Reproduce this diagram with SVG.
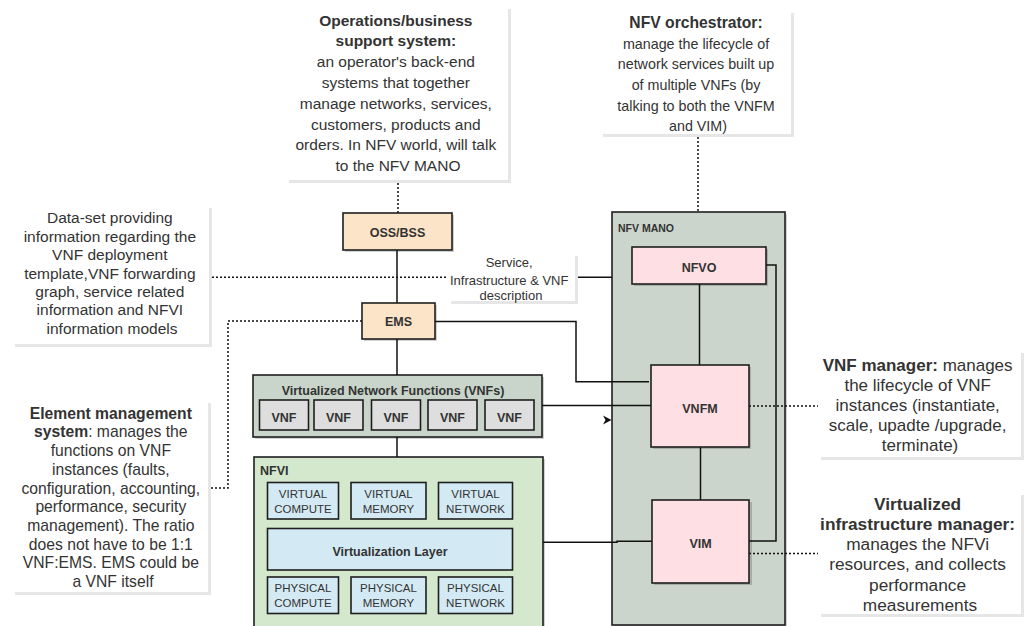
<svg xmlns="http://www.w3.org/2000/svg" width="1028" height="626" viewBox="0 0 1028 626">
<style>
  text { font-family: "Liberation Sans", Arial, sans-serif; fill: #333; }
  .note { text-anchor: middle; }
  .b { font-weight: bold; }
  .shadow { fill: #e6e6e6; }
  .paper { fill: #ffffff; }
  .box { stroke: #1e1e1e; stroke-width: 1.6; }
  .dshadow { fill: #000; opacity: 0.18; }
  .peach { fill: #fce4c8; }
  .pink { fill: #fddfe4; }
  .mano { fill: #cbd5cc; }
  .vnfs { fill: #c9d5ca; }
  .vnf { fill: #dedede; }
  .nfvi { fill: #d3e8cd; }
  .res { fill: #d3eaf4; }
  .lbl { text-anchor: middle; font-weight: bold; font-size: 12.5px; }
  .res-t { text-anchor: middle; font-size: 11.5px; }
  .wire { fill: none; stroke: #111; stroke-width: 1.5; }
  .dot { fill: none; stroke: #111; stroke-width: 1.5; stroke-dasharray: 2 2; }
</style>

<!-- annotation notes -->
<g id="note-oss">
  <rect class="shadow" x="289" y="9" width="222" height="174"/>
  <rect class="paper" x="286" y="6" width="222" height="174"/>
  <text class="note" font-size="15.5">
    <tspan class="b" x="398" y="25.5">Operations/business</tspan>
    <tspan class="b" x="398" y="46.3">support system:</tspan>
    <tspan x="398" y="67.1">an operator's back-end</tspan>
    <tspan x="398" y="87.9">systems that together</tspan>
    <tspan x="398" y="108.7">manage networks, services,</tspan>
    <tspan x="398" y="129.5">customers, products and</tspan>
    <tspan x="398" y="150.3">orders. In NFV world, will talk</tspan>
    <tspan x="398" y="171.1">to the NFV MANO</tspan>
  </text>
</g>

<g id="note-nfvo">
  <rect class="shadow" x="603" y="13" width="191" height="124"/>
  <rect class="paper" x="600" y="10" width="191" height="124"/>
  <text class="note" font-size="14.3">
    <tspan class="b" x="698" y="28" font-size="15.7">NFV orchestrator:</tspan>
    <tspan x="698" y="48.5">manage the lifecycle of</tspan>
    <tspan x="698" y="69">network services built up</tspan>
    <tspan x="698" y="90">of multiple VNFs (by</tspan>
    <tspan x="698" y="110.5">talking to both the VNFM</tspan>
    <tspan x="698" y="131">and VIM)</tspan>
  </text>
</g>

<g id="note-dataset">
  <rect class="shadow" x="15" y="208" width="197" height="139"/>
  <rect class="paper" x="12" y="205" width="197" height="139"/>
  <text class="note" font-size="15.5">
    <tspan x="112" y="223.4">Data-set providing</tspan>
    <tspan x="112" y="241.8">information regarding the</tspan>
    <tspan x="112" y="260.2">VNF deployment</tspan>
    <tspan x="112" y="278.6">template,VNF forwarding</tspan>
    <tspan x="112" y="297">graph, service related</tspan>
    <tspan x="112" y="315.4">information and NFVI</tspan>
    <tspan x="112" y="333.8">information models</tspan>
  </text>
</g>

<g id="note-ems">
  <rect class="shadow" x="15" y="403" width="196" height="192"/>
  <rect class="paper" x="12" y="400" width="196" height="192"/>
  <text class="note" font-size="15.7">
    <tspan class="b" x="113" y="418.7">Element management</tspan>
    <tspan x="113" y="437.4"><tspan class="b">system</tspan>: manages the</tspan>
    <tspan x="113" y="456.1">functions on VNF</tspan>
    <tspan x="113" y="474.8">instances (faults,</tspan>
    <tspan x="113" y="493.5">configuration, accounting,</tspan>
    <tspan x="113" y="512.2">performance, security</tspan>
    <tspan x="113" y="530.9">management). The ratio</tspan>
    <tspan x="113" y="549.6">does not have to be 1:1</tspan>
    <tspan x="113" y="568.3">VNF:EMS. EMS could be</tspan>
    <tspan x="113" y="587">a VNF itself</tspan>
  </text>
</g>

<g id="note-vnfm">
  <rect class="shadow" x="821" y="353" width="203" height="107"/>
  <rect class="paper" x="818" y="350" width="203" height="107"/>
  <text class="note" font-size="17">
    <tspan x="920" y="371"><tspan class="b">VNF manager:</tspan> manages</tspan>
    <tspan x="920" y="391">the lifecycle of VNF</tspan>
    <tspan x="920" y="411">instances (instantiate,</tspan>
    <tspan x="920" y="431">scale, upadte /upgrade,</tspan>
    <tspan x="920" y="451">terminate)</tspan>
  </text>
</g>

<g id="note-vim">
  <rect class="shadow" x="821" y="495" width="203" height="122"/>
  <rect class="paper" x="818" y="492" width="203" height="122"/>
  <text class="note" font-size="17.3">
    <tspan class="b" x="920" y="509.5">Virtualized</tspan>
    <tspan class="b" x="920" y="529.8">infrastructure manager:</tspan>
    <tspan x="920" y="550.1">manages the NFVi</tspan>
    <tspan x="920" y="570.4">resources, and collects</tspan>
    <tspan x="920" y="590.7">performance</tspan>
    <tspan x="920" y="611">measurements</tspan>
  </text>
</g>

<!-- containers -->
<g id="nfv-mano">
  <rect class="dshadow" x="614" y="214" width="173" height="413"/>
  <rect class="mano box" x="612" y="212" width="173" height="413"/>
  <text x="618" y="232" font-size="10.5" font-weight="bold">NFV MANO</text>
</g>

<g id="vnfs">
  <rect class="dshadow" x="255" y="377" width="289" height="62"/>
  <rect class="vnfs box" x="253" y="375" width="289" height="62"/>
  <text class="lbl" x="393" y="394.5">Virtualized Network Functions (VNFs)</text>
  <g id="vnf1"><rect class="vnf box" x="259.5" y="400" width="49" height="30"/><text class="lbl" x="284" y="421.8">VNF</text></g>
  <g id="vnf2"><rect class="vnf box" x="314" y="400" width="49" height="30"/><text class="lbl" x="338.5" y="421.8">VNF</text></g>
  <g id="vnf3"><rect class="vnf box" x="371.5" y="400" width="49" height="30"/><text class="lbl" x="396" y="421.8">VNF</text></g>
  <g id="vnf4"><rect class="vnf box" x="428" y="400" width="49" height="30"/><text class="lbl" x="452.5" y="421.8">VNF</text></g>
  <g id="vnf5"><rect class="vnf box" x="485" y="400" width="49" height="30"/><text class="lbl" x="509.5" y="421.8">VNF</text></g>
</g>

<g id="nfvi">
  <rect class="dshadow" x="256" y="459" width="289" height="175"/>
  <rect class="nfvi box" x="254" y="457" width="289" height="175"/>
  <text x="260" y="475" font-size="12.5" font-weight="bold">NFVI</text>
  <g id="virtual-compute"><rect class="res box" x="267.5" y="482.5" width="71" height="36.5"/>
    <text class="res-t"><tspan x="303" y="497.5">VIRTUAL</tspan><tspan x="303" y="512.5">COMPUTE</tspan></text></g>
  <g id="virtual-memory"><rect class="res box" x="351" y="482.5" width="75" height="36.5"/>
    <text class="res-t"><tspan x="388.5" y="497.5">VIRTUAL</tspan><tspan x="388.5" y="512.5">MEMORY</tspan></text></g>
  <g id="virtual-network"><rect class="res box" x="438.5" y="482.5" width="74" height="36.5"/>
    <text class="res-t"><tspan x="475.5" y="497.5">VIRTUAL</tspan><tspan x="475.5" y="512.5">NETWORK</tspan></text></g>
  <g id="virtualization-layer"><rect class="res box" x="267.5" y="528.5" width="245" height="41.5"/>
    <text class="lbl" x="390" y="555.5">Virtualization Layer</text></g>
  <g id="physical-compute"><rect class="res box" x="267.5" y="577" width="71" height="36.5"/>
    <text class="res-t"><tspan x="303" y="591.8">PHYSICAL</tspan><tspan x="303" y="606.8">COMPUTE</tspan></text></g>
  <g id="physical-memory"><rect class="res box" x="351" y="577" width="75" height="36.5"/>
    <text class="res-t"><tspan x="388.5" y="591.8">PHYSICAL</tspan><tspan x="388.5" y="606.8">MEMORY</tspan></text></g>
  <g id="physical-network"><rect class="res box" x="438.5" y="577" width="74" height="36.5"/>
    <text class="res-t"><tspan x="475.5" y="591.8">PHYSICAL</tspan><tspan x="475.5" y="606.8">NETWORK</tspan></text></g>
</g>

<!-- connectors -->
<g id="connectors">
  <path class="dot" d="M398,183 V213"/>
  <path class="dot" d="M698,137 V212"/>
  <path class="dot" d="M212,277.3 H448"/>
  <path class="wire" d="M578,277.3 H612"/>
  <path class="wire" d="M397,250 V303"/>
  <path class="dot" d="M211,488 H228 V321 H362"/>
  <path class="wire" d="M435,321.5 H576 V381.7 H649"/>
  <path class="wire" d="M397,339 V375"/>
  <path class="wire" d="M542,405.5 H651"/>
  <path fill="#111" d="M603,415.5 L611.5,420 L603,424.5 L605.5,420 Z"/>
  <path class="wire" d="M397,437 V457"/>
  <path class="wire" d="M543,542.3 H617 V541.3 H652"/>
  <path class="wire" d="M766,265 H776 V541 H749"/>
  <path class="wire" d="M699.5,284 V365"/>
  <path class="wire" d="M700.5,447 V500"/>
  <path class="dot" d="M749,406 H818"/>
  <path class="dot" d="M749,553.5 H818"/>
</g>

<!-- label on connector -->
<g id="label-service">
  <rect class="shadow" x="451" y="256" width="127" height="48"/>
  <rect class="paper" x="448" y="253" width="127" height="48"/>
  <text class="note" font-size="13">
    <tspan x="511" y="266.8">Service,</tspan>
    <tspan x="511" y="284.5">Infrastructure &amp; VNF</tspan>
    <tspan x="511" y="300.2">description</tspan>
  </text>
</g>

<!-- MANO nodes -->
<g id="oss-bss">
  <rect class="dshadow" x="345" y="215" width="109" height="37"/>
  <rect class="peach box" x="343" y="213" width="109" height="37"/>
  <text class="lbl" x="397.5" y="236.5">OSS/BSS</text>
</g>
<g id="ems">
  <rect class="dshadow" x="364" y="305" width="73" height="36"/>
  <rect class="peach box" x="362" y="303" width="73" height="36"/>
  <text class="lbl" x="398.5" y="325.5">EMS</text>
</g>
<g id="nfvo">
  <rect class="dshadow" x="634" y="249" width="134" height="37"/>
  <rect class="pink box" x="632" y="247" width="134" height="37"/>
  <text class="lbl" x="699" y="271.5">NFVO</text>
</g>
<g id="vnfm">
  <rect class="dshadow" x="653" y="367" width="98" height="82"/>
  <rect class="pink box" x="651" y="365" width="98" height="82"/>
  <text class="lbl" x="700" y="412.5">VNFM</text>
</g>
<g id="vim">
  <rect class="dshadow" x="654" y="502" width="98" height="83"/>
  <rect class="pink box" x="652" y="500" width="97" height="83"/>
  <text class="lbl" x="700.5" y="547.5">VIM</text>
</g>
</svg>
